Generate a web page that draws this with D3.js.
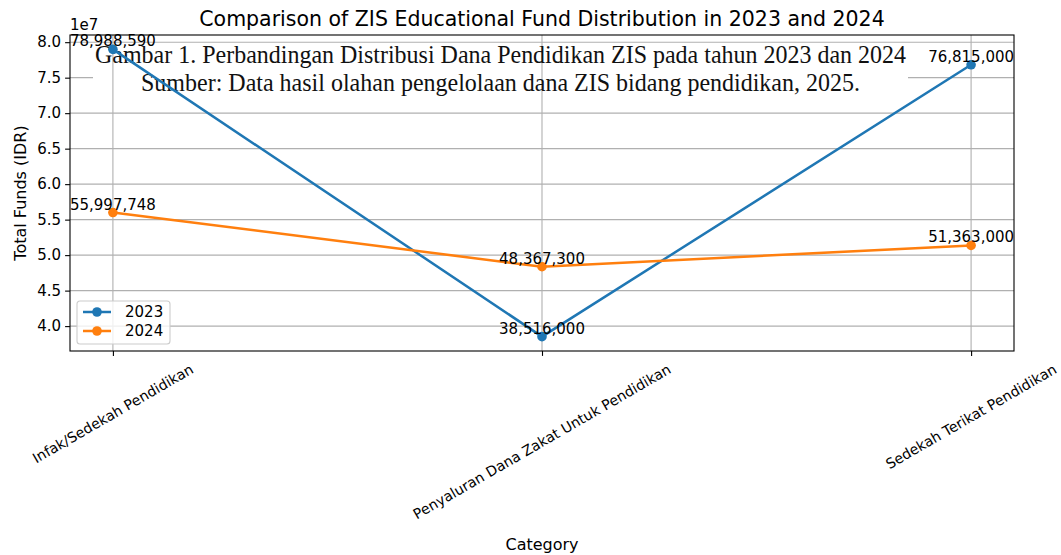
<!DOCTYPE html>
<html>
<head>
<meta charset="utf-8">
<script src="https://cdn.jsdelivr.net/npm/d3@7"></script>
<style>
  body { margin: 0; background: #fff; }
  svg { display: block; font-family: "DejaVu Sans", sans-serif; }
</style>
</head>
<body>
<svg id="chart" width="1061" height="555"></svg>
<script>
const categories = [
  'Infak/Sedekah Pendidikan',
  'Penyaluran Dana Zakat Untuk Pendidikan',
  'Sedekah Terikat Pendidikan'
];
const years = ['2023', '2024'];
const values2023 = [78988590, 38516000, 76815000];
const values2024 = [55997748, 48367300, 51363000];
const yTicks = [40000000, 45000000, 50000000, 55000000, 60000000, 65000000, 70000000, 75000000, 80000000];
const captionLines = [
  'Gambar 1. Perbandingan Distribusi Dana Pendidikan ZIS pada tahun 2023 dan 2024',
  'Sumber: Data hasil olahan pengelolaan dana ZIS bidang pendidikan, 2025.'
];

const COLORS = ['#1f77b4', '#ff7f0e'];
const LEFT = 70, RIGHT = 1014, TOP = 35, BOTTOM = 351;
const FONT = 15;
const CAT_FONT = 14.2;

const svg = d3.select('#chart');

const series = [values2023, values2024];
const all = values2023.concat(values2024);
const [lo, hi] = d3.extent(all);
const pad = (hi - lo) * 0.05;

const x = d3.scalePoint().domain(categories).range([LEFT, RIGHT]).padding(0.1);
const y = d3.scaleLinear().domain([lo - pad, hi + pad]).range([BOTTOM, TOP]);

// horizontal grid
svg.append('g')
    .selectAll('line')
    .data(yTicks)
    .enter().append('line')
    .attr('x1', LEFT).attr('x2', RIGHT)
    .attr('y1', (d) => y(d)).attr('y2', (d) => y(d))
    .attr('stroke', '#b0b0b0').attr('stroke-width', 1.1);

// caption box sits over the chart
svg.append('rect')
    .attr('x', 93).attr('y', 44)
    .attr('width', 815).attr('height', 53)
    .attr('fill', '#fff');

// vertical grid
svg.append('g')
    .selectAll('line')
    .data(categories)
    .enter().append('line')
    .attr('x1', (d) => x(d)).attr('x2', (d) => x(d))
    .attr('y1', TOP).attr('y2', BOTTOM)
    .attr('stroke', '#b0b0b0').attr('stroke-width', 1.1);

// caption text
const capX = [95, 141];
const capW = [811, 719];
const capY = [63, 91];
svg.append('g')
    .selectAll('text')
    .data(captionLines)
    .enter().append('text')
    .attr('x', (d, i) => capX[i])
    .attr('y', (d, i) => capY[i])
    .attr('textLength', (d, i) => capW[i])
    .attr('lengthAdjust', 'spacingAndGlyphs')
    .style('font-family', '"Liberation Serif", serif')
    .style('font-size', '25px')
    .attr('fill', '#111')
    .text((d) => d);

// axes
const yAxis = d3.axisLeft(y)
    .tickValues(yTicks)
    .tickSize(4.9)
    .tickPadding(4)
    .tickFormat((d) => (d / 1e7).toFixed(1));
const gy = svg.append('g').attr('transform', `translate(${LEFT},0)`).call(yAxis);
gy.select('.domain').remove();
gy.selectAll('text').style('font-size', FONT + 'px').attr('fill', '#000').style('font-family', '"DejaVu Sans"');
gy.selectAll('line').attr('stroke', '#000').attr('stroke-width', 1.1);

const xAxis = d3.axisBottom(x).tickSize(4.9).tickFormat('');
const gx = svg.append('g').attr('transform', `translate(0,${BOTTOM})`).call(xAxis);
gx.select('.domain').remove();
gx.selectAll('line').attr('stroke', '#000').attr('stroke-width', 1.1);

// rotated category labels, bbox centred on tick
const sin = Math.sin(Math.PI / 6), cos = Math.cos(Math.PI / 6);
const labH = CAT_FONT * 1.16;
svg.append('g')
    .selectAll('text')
    .data(categories)
    .enter().append('text')
    .style('font-size', CAT_FONT + 'px')
    .attr('text-anchor', 'middle')
    .attr('dy', '0.35em')
    .text((d) => d)
    .attr('transform', function(d) {
      const w = this.getComputedTextLength();
      const top = BOTTOM + 4.9 + 4.9;
      const cy = top + (w * sin + labH * cos) / 2;
      return `translate(${x(d)},${cy}) rotate(-30)`;
    });

// frame
svg.append('rect')
    .attr('x', LEFT).attr('y', TOP)
    .attr('width', RIGHT - LEFT).attr('height', BOTTOM - TOP)
    .attr('fill', 'none').attr('stroke', '#000').attr('stroke-width', 1.1);

// lines + markers
const line = d3.line()
    .x((d, i) => x(categories[i]))
    .y((d) => y(d));

series.forEach((vals, s) => {
  svg.append('path')
      .datum(vals)
      .attr('d', line)
      .attr('fill', 'none')
      .attr('stroke', COLORS[s])
      .attr('stroke-width', 2.5);
  svg.append('g')
      .selectAll('circle')
      .data(vals)
      .enter().append('circle')
      .attr('cx', (d, i) => x(categories[i]))
      .attr('cy', (d) => y(d))
      .attr('r', 4.8)
      .attr('fill', COLORS[s]);
});

// value labels
series.forEach((vals) => {
  svg.append('g')
      .selectAll('text')
      .data(vals)
      .enter().append('text')
      .attr('x', (d, i) => x(categories[i]))
      .attr('y', (d) => y(d) - 3)
      .attr('text-anchor', 'middle')
      .style('font-size', FONT + 'px')
      .text((d) => d3.format(',')(d));
});

// offset text
svg.append('text')
    .attr('x', LEFT).attr('y', 30)
    .style('font-size', FONT + 'px')
    .text('1e7');

// title and axis labels
svg.append('text')
    .attr('x', (LEFT + RIGHT) / 2).attr('y', 26)
    .attr('text-anchor', 'middle')
    .style('font-size', '20.5px')
    .text('Comparison of ZIS Educational Fund Distribution in 2023 and 2024');

svg.append('text')
    .attr('x', (LEFT + RIGHT) / 2).attr('y', 550)
    .attr('text-anchor', 'middle')
    .style('font-size', '16px')
    .text('Category');

svg.append('text')
    .attr('transform', `translate(26,${(TOP + BOTTOM) / 2}) rotate(-90)`)
    .attr('text-anchor', 'middle')
    .style('font-size', '16px')
    .text('Total Funds (IDR)');

// legend
const legend = svg.append('g').attr('transform', 'translate(77,301)');
legend.append('rect')
    .attr('width', 93).attr('height', 43)
    .attr('rx', 3)
    .attr('fill', '#fff').attr('fill-opacity', 0.8)
    .attr('stroke', '#ccc').attr('stroke-width', 1.1);
const items = legend.selectAll('g.item')
    .data(years)
    .enter().append('g')
    .attr('transform', (d, i) => `translate(0,${11 + i * 19})`);
items.append('line')
    .attr('x1', 6).attr('x2', 34)
    .attr('stroke', (d, i) => COLORS[i]).attr('stroke-width', 2.5);
items.append('circle')
    .attr('cx', 20).attr('r', 4.8)
    .attr('fill', (d, i) => COLORS[i]);
items.append('text')
    .attr('x', 48).attr('dy', '0.35em')
    .style('font-size', FONT + 'px')
    .text((d) => d);
</script>
</body>
</html>
